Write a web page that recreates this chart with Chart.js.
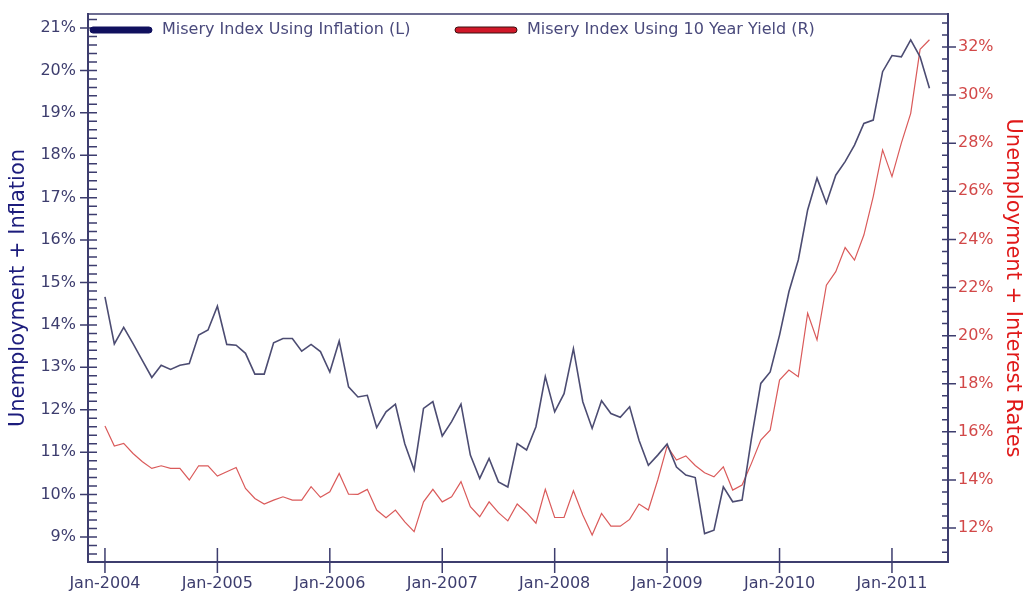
<!DOCTYPE html>
<html>
<head>
<meta charset="utf-8">
<script src="https://cdn.jsdelivr.net/npm/chart.js@4.4.0/dist/chart.umd.min.js"></script>
<style>
  html, body { margin: 0; padding: 0; background: #fff; }
  #wrap { width: 1027px; height: 599px; }
</style>
</head>
<body>
<div id="wrap"><canvas id="miseryChart" width="1027" height="599"></canvas></div>
<script>
// month index 0 = Jan-2004
const inflationMisery = [
  14.66, 13.55, 13.94, 13.56, 13.16, 12.76, 13.05, 12.95, 13.05, 13.09, 13.76, 13.88,
  14.44, 13.54, 13.52, 13.33, 12.84, 12.84, 13.58, 13.68, 13.68, 13.38, 13.54, 13.37,
  12.89, 13.62, 12.54, 12.30, 12.34, 11.58, 11.95, 12.13, 11.20, 10.58, 12.03, 12.19,
  11.38, 11.72, 12.13, 10.93, 10.38, 10.85, 10.30, 10.18, 11.20, 11.05, 11.60, 12.78,
  11.95, 12.38, 13.44, 12.19, 11.56, 12.21, 11.91, 11.82, 12.07, 11.28, 10.69, 10.93,
  11.19, 10.65, 10.46, 10.40, 9.08, 9.16, 10.18, 9.83, 9.87, 11.32, 12.62, 12.89,
  13.76, 14.78, 15.53, 16.71, 17.46, 16.87, 17.53, 17.85, 18.24, 18.75, 18.83, 19.97,
  20.35, 20.32, 20.72, 20.32, 19.58
];
const yieldMisery = [
  16.24, 15.41, 15.52, 15.10, 14.76, 14.48, 14.59, 14.48, 14.48, 14.00, 14.59, 14.59,
  14.16, 14.34, 14.52, 13.65, 13.23, 13.00, 13.16, 13.30, 13.16, 13.16, 13.72, 13.28,
  13.51, 14.27, 13.41, 13.40, 13.61, 12.75, 12.43, 12.75, 12.26, 11.85, 13.09, 13.61,
  13.09, 13.30, 13.93, 12.89, 12.47, 13.09, 12.64, 12.30, 13.00, 12.64, 12.20, 13.61,
  12.44, 12.44, 13.55, 12.54, 11.71, 12.61, 12.08, 12.08, 12.36, 13.00, 12.75, 14.00,
  15.41, 14.83, 15.00, 14.60, 14.30, 14.13, 14.55, 13.58, 13.79, 14.69, 15.66, 16.07,
  18.15, 18.57, 18.29, 20.93, 19.82, 22.10, 22.66, 23.66, 23.14, 24.18, 25.78, 27.72,
  26.61, 28.00, 29.24, 31.90, 32.30
];
const seriesNames = ["Misery Index Using Inflation (L)", "Misery Index Using 10 Year Yield (R)"];
const leftTitle = "Unemployment + Inflation";
const rightTitle = "Unemployment + Interest Rates";
const firstYear = 2004;

const AXIS = "#3d3d6e";
const BLUE_LINE = "#4c4c72";
const RED_LINE = "#da5a5a";

function toPoints(arr) {
  return arr.map((v, i) => ({ x: i, y: v }));
}

function noEdgePadding(s) {
  s.paddingTop = 0;
  s.paddingBottom = 0;
  s.paddingLeft = 0;
  s.paddingRight = 0;
}

// tick marks drawn across / inside the axes like the original
const axisTicks = {
  id: "axisTicks",
  afterDraw(chart) {
    const { ctx, chartArea: a, scales } = chart;
    const yl = scales.yL, yr = scales.yR, x = scales.x;
    ctx.save();
    ctx.strokeStyle = AXIS;
    ctx.lineWidth = 1.5;
    ctx.beginPath();
    ctx.moveTo(a.left, a.top);
    ctx.lineTo(a.right, a.top);
    for (let v = 8.6; v <= yl.max + 0.001; v += 0.2) {
      const r = Math.round(v * 10) / 10;
      const py = yl.getPixelForValue(r);
      const major = Math.abs(r - Math.round(r)) < 0.01;
      ctx.moveTo(major ? a.left - 8 : a.left, py);
      ctx.lineTo(a.left + 9, py);
    }
    for (let v = 11; v <= yr.max + 0.001; v += 0.5) {
      const py = yr.getPixelForValue(v);
      const major = v % 2 === 0;
      ctx.moveTo(a.right - 6, py);
      ctx.lineTo(major ? a.right + 8 : a.right, py);
    }
    for (let m = 0; m <= x.max; m += 12) {
      const px = x.getPixelForValue(m);
      ctx.moveTo(px, a.bottom - 14);
      ctx.lineTo(px, a.bottom + 11);
    }
    ctx.stroke();
    ctx.restore();
  }
};

// legend sits inside the plot frame, top-left
const insideLegend = {
  id: "insideLegend",
  afterDraw(chart) {
    const { ctx, chartArea: a } = chart;
    const y = a.top + 16;
    const items = [
      { x: a.left + 2, fill: "#10105e", stroke: "#10105e" },
      { x: a.left + 367, fill: "#d01828", stroke: "#3a1010" }
    ];
    ctx.save();
    ctx.font = "16px 'DejaVu Sans'";
    ctx.textBaseline = "middle";
    items.forEach((it, i) => {
      ctx.fillStyle = it.fill;
      ctx.strokeStyle = it.stroke;
      ctx.lineWidth = 1;
      ctx.beginPath();
      ctx.roundRect(it.x, y - 3, 62, 6, 3);
      ctx.fill();
      ctx.stroke();
      ctx.fillStyle = "#4a4a7c";
      ctx.fillText(seriesNames[i], it.x + 72, y);
    });
    ctx.restore();
  }
};

new Chart(document.getElementById("miseryChart"), {
  type: "line",
  data: {
    datasets: [
      {
        label: seriesNames[0],
        data: toPoints(inflationMisery),
        yAxisID: "yL",
        borderColor: BLUE_LINE,
        borderWidth: 1.6,
        pointRadius: 0,
        tension: 0
      },
      {
        label: seriesNames[1],
        data: toPoints(yieldMisery),
        yAxisID: "yR",
        borderColor: RED_LINE,
        borderWidth: 1.2,
        pointRadius: 0,
        tension: 0
      }
    ]
  },
  options: {
    responsive: false,
    animation: false,
    layout: { padding: { top: 14, left: 0, right: 0, bottom: 0 } },
    plugins: {
      tooltip: { enabled: false },
      legend: { display: false }
    },
    scales: {
      x: {
        type: "linear",
        min: -1.81,
        max: 89.98,
        afterFit(s) { s.height = 37; noEdgePadding(s); },
        border: { display: true, color: AXIS, width: 2 },
        grid: { display: false, drawTicks: false },
        ticks: {
          stepSize: 12,
          includeBounds: false,
          padding: 12,
          color: "#3d3d6e",
          font: { family: "DejaVu Sans", size: 16 },
          maxRotation: 0,
          callback: v => "Jan-" + (firstYear + v / 12)
        }
      },
      yL: {
        position: "left",
        min: 8.41,
        max: 21.33,
        afterFit(s) { s.width = 88; noEdgePadding(s); },
        border: { display: true, color: AXIS, width: 2 },
        grid: { display: false, drawTicks: false },
        ticks: {
          stepSize: 1,
          includeBounds: false,
          padding: 12,
          color: "#3d3d6e",
          font: { family: "DejaVu Sans", size: 16 },
          callback: v => v + "%"
        },
        title: {
          display: true,
          text: leftTitle,
          color: "#1c1c7c",
          font: { family: "DejaVu Sans", size: 21 },
          padding: { top: 6, bottom: 0 }
        }
      },
      yR: {
        position: "right",
        min: 10.59,
        max: 33.37,
        afterFit(s) { s.width = 79; noEdgePadding(s); },
        border: { display: true, color: AXIS, width: 2 },
        grid: { display: false, drawTicks: false },
        ticks: {
          stepSize: 2,
          includeBounds: false,
          padding: 10,
          color: "#d24848",
          font: { family: "DejaVu Sans", size: 16 },
          callback: v => v + "%"
        },
        title: {
          display: true,
          text: rightTitle,
          color: "#e01818",
          font: { family: "DejaVu Sans", size: 21 },
          padding: { top: 2, bottom: 0 }
        }
      }
    }
  },
  plugins: [axisTicks, insideLegend]
});
</script>
</body>
</html>
